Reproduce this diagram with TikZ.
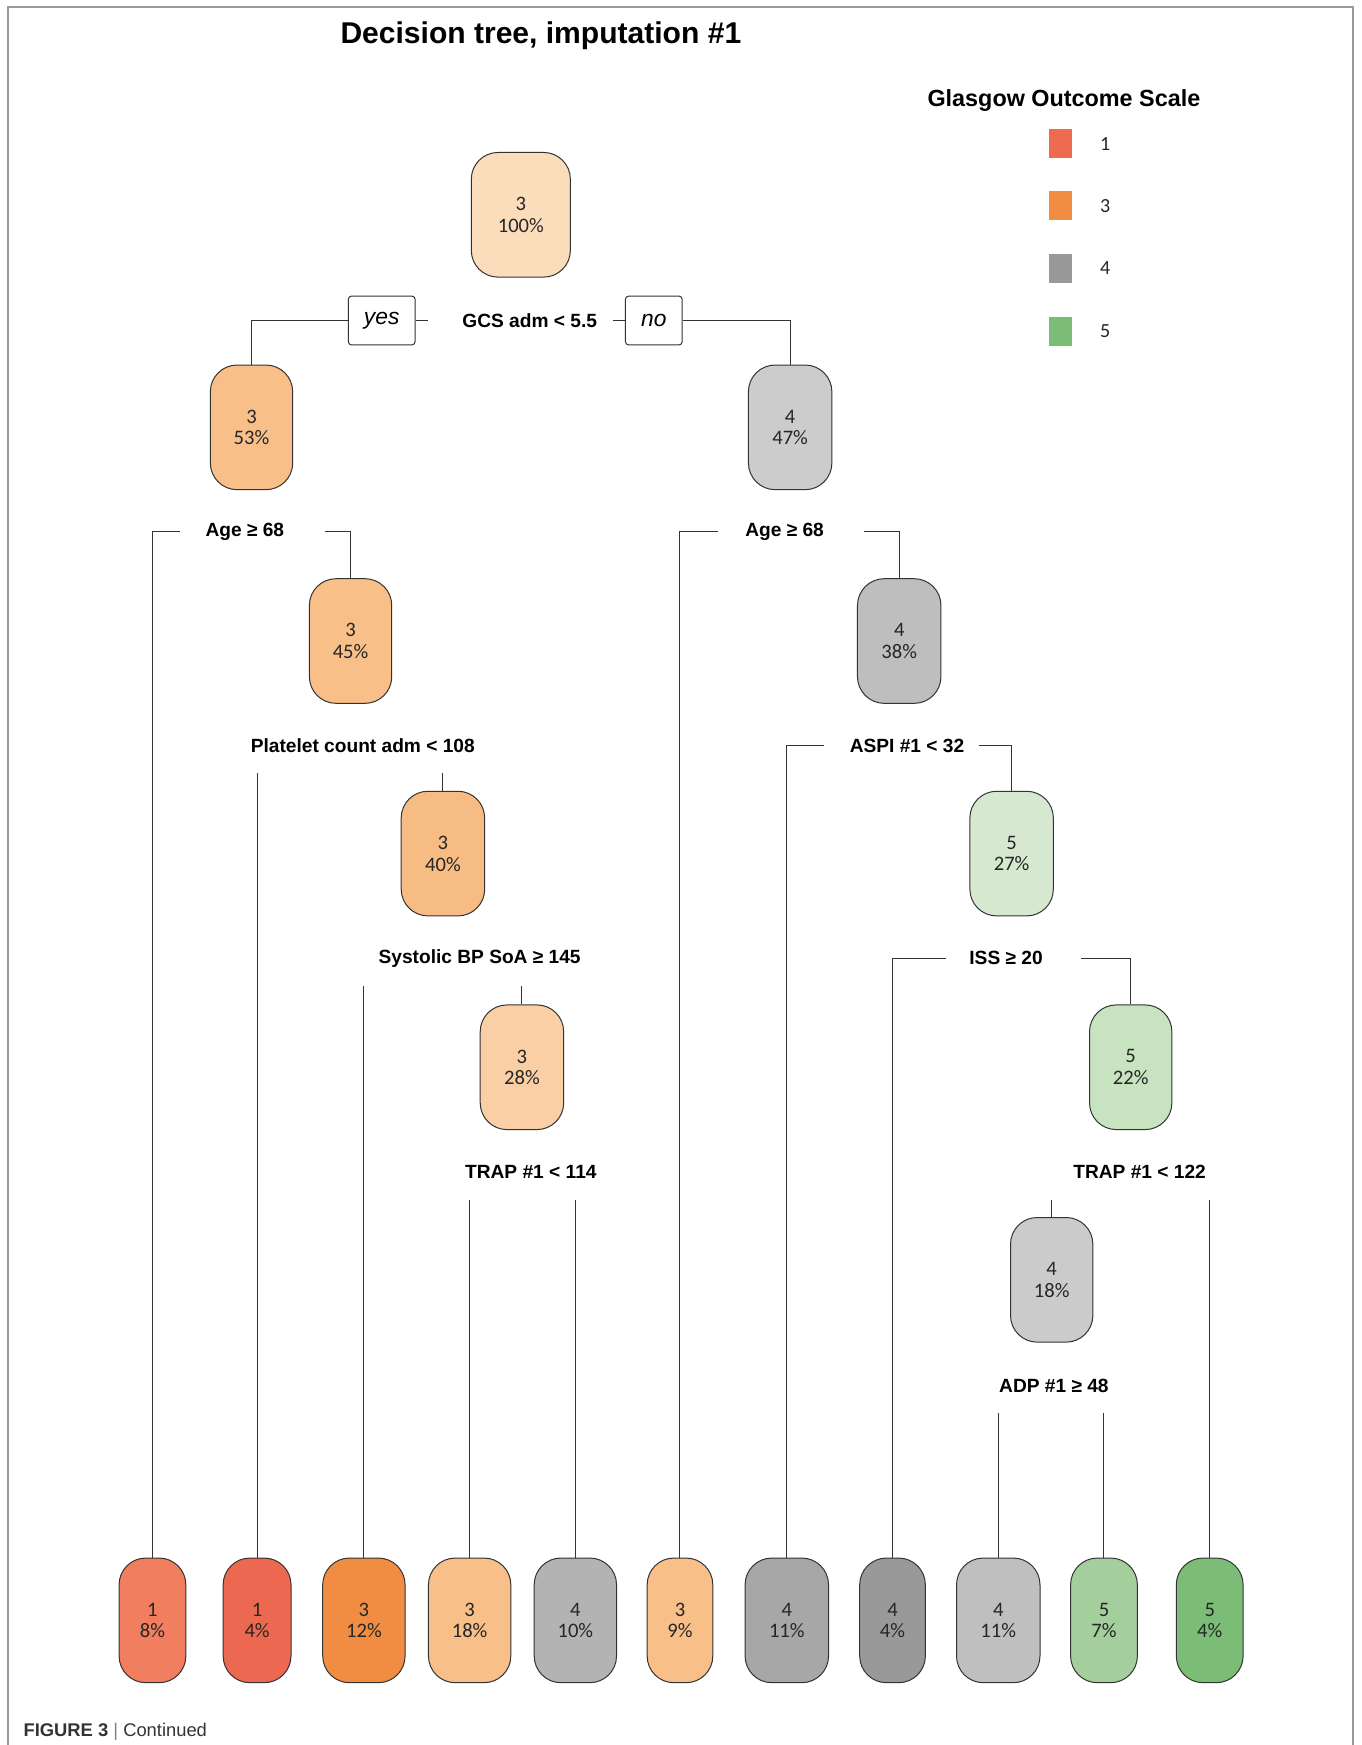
\documentclass[tikz,border=0pt]{standalone}
\usepackage{fontspec}
\setmainfont{Liberation Sans}
\newfontfamily\numfont{Carlito}
\usetikzlibrary{positioning}

% legend colours
\definecolor{gos1}{HTML}{EE6A50}
\definecolor{gos3}{HTML}{F08D43}
\definecolor{gos4}{HTML}{999999}
\definecolor{gos5}{HTML}{7BBD77}
% inner nodes
\definecolor{nd1}{HTML}{FCDDBB}
\definecolor{nd2}{HTML}{F8BF88}
\definecolor{nd3}{HTML}{CCCCCC}
\definecolor{nd4}{HTML}{F8BF88}
\definecolor{nd5}{HTML}{BEBEBE}
\definecolor{nd6}{HTML}{F7BC84}
\definecolor{nd7}{HTML}{D6E9D0}
\definecolor{nd8}{HTML}{FACFA5}
\definecolor{nd9}{HTML}{C7E3C0}
\definecolor{nd10}{HTML}{CBCBCB}
% leaves
\definecolor{lf1}{HTML}{F07E5F}
\definecolor{lf2}{HTML}{EC6850}
\definecolor{lf3}{HTML}{F08D43}
\definecolor{lf4}{HTML}{F8BF88}
\definecolor{lf5}{HTML}{B3B3B3}
\definecolor{lf6}{HTML}{F8BF88}
\definecolor{lf7}{HTML}{A7A7A7}
\definecolor{lf8}{HTML}{999999}
\definecolor{lf9}{HTML}{BFBFBF}
\definecolor{lf10}{HTML}{A4CF9D}
\definecolor{lf11}{HTML}{7BBD76}

\tikzstyle{gnode}=[draw=black!80, line width=0.9pt, rounded corners=24pt, minimum height=112pt, inner sep=0pt, align=center, text=black!85, font=\numfont\fontsize{18.5}{19.5}\selectfont]
\tikzstyle{split}=[inner sep=0pt, font=\bfseries\fontsize{17.2}{20}\selectfont]
\tikzstyle{tag}=[draw=black!80, line width=0.9pt, rounded corners=3pt, minimum height=44pt, inner sep=0pt, font=\itshape\fontsize{20.5}{24}\selectfont]
\tikzstyle{link}=[draw=black!80, line width=0.9pt]
\tikzstyle{key}=[minimum width=20pt, minimum height=26pt, inner sep=0pt]

\begin{document}
\begin{tikzpicture}[x=1pt, y=-1pt]

			\useasboundingbox (0,0) rectangle (1223,1568);
			\draw[black!40, line width=1.8pt] (7,1568) -- (7,6) -- (1216,6) -- (1216,1568);

			% Titles
			\node[font=\bfseries\fontsize{27}{31}\selectfont] (title) at (486,32) {Decision tree, imputation \#1};
			\node[font=\bfseries\fontsize{21}{25}\selectfont] (legend) at (956,90) {Glasgow Outcome Scale};

			% Legend
			\foreach \g/\y in {1/129,3/185,4/241,5/298}
			{
			\node[key, fill=gos\g] (key-\g) at (953,\y) {};
			\node[font=\numfont\fontsize{18}{20}\selectfont, text=black!85] (keytext-\g) at (993,\y) {\g};
			}

			% Inner nodes
			\foreach \name/\x/\y/\w/\g/\p in {1/468/193/89/3/100, 2/226/384/74/3/53, 3/710/384/75/4/47,
			4/315/576/74/3/45, 5/808/576/75/4/38, 6/398/767/75/3/40, 7/909/767/75/5/27,
			8/469/959/75/3/28, 9/1016/959/74/5/22, 10/945/1150/74/4/18}
			\node[gnode, fill=nd\name, minimum width=\w pt] (n\name) at (\x,\y) {\g\\\p\%};

			% Leaves
			\foreach \name/\x/\w/\g/\p in {1/137/60/1/8, 2/231/61/1/4, 3/327/74/3/12, 4/422/74/3/18,
			5/517/74/4/10, 6/611/59/3/9, 7/707/75/4/11, 8/802/59/4/4, 9/897/75/4/11,
			10/992/60/5/7, 11/1087/60/5/4}
			\node[gnode, fill=lf\name, minimum width=\w pt] (l\name) at (\x,1456) {\g\\\p\%};

			% Split labels
			\node[split] (s1) at (476,288) {GCS adm < 5.5};
			\node[split] (s2) at (220,478) {Age ≥ 68};
			\node[split] (s3) at (326,670) {Platelet count adm < 108};
			\node[split] (s4) at (431,861) {Systolic BP SoA ≥ 145};
			\node[split] (s5) at (477,1053) {TRAP \#1 < 114};
			\node[split] (s6) at (705,478) {Age ≥ 68};
			\node[split] (s7) at (815,670) {ASPI \#1 < 32};
			\node[split] (s8) at (904,861) {ISS ≥ 20};
			\node[split] (s9) at (1024,1053) {TRAP \#1 < 122};
			\node[split] (s10) at (947,1245) {ADP \#1 ≥ 48};

			\node[tag, minimum width=60pt] (yes) at (343,288) {yes};
			\node[tag, minimum width=51pt] (no) at (587.5,288) {no};

			% Root split
			\coordinate (s1-l) at ([xshift=-91pt]s1.center);
			\coordinate (s1-r) at ([xshift=75pt]s1.center);
			\draw[link] (n2.north) |- (yes.west);
			\draw[link] (yes.east) -- (s1-l);
			\draw[link] (s1-r) -- (no.west);
			\draw[link] (no.east) -| (n3.north);

			% Splits with side branches
			\foreach \s/\a/\b/\dl/\dr in {s2/l1/n4/58/72, s6/l6/n5/60/71, s7/l7/n7/75/65, s8/l8/n9/54/67}
			{
			\coordinate (\s-l) at ([xshift=-\dl pt]\s.center);
			\coordinate (\s-r) at ([xshift=\dr pt]\s.center);
			\draw[link] (\a.north) |- (\s-l);
			\draw[link] (\s-r) -| (\b.north);
			}

			% Splits with wide labels
			\foreach \s/\a/\b in {s3/l2/n6, s4/l3/n8, s5/l4/l5, s9/n10/l11, s10/l9/l10}
			{
			\coordinate (\s-b) at ([yshift=-25pt]\s.center);
			\draw[link] (\a.north) -- (\a.north |- \s-b);
			\draw[link] (\b.north) -- (\b.north |- \s-b);
			}

			% Caption
			\node[anchor=west, inner sep=0pt, font=\fontsize{16.5}{19}\selectfont, text=black!80] (caption) at (21,1556) {\textbf{FIGURE 3} {\color{black!50}|} Continued};
		\end{tikzpicture}
\end{document}
